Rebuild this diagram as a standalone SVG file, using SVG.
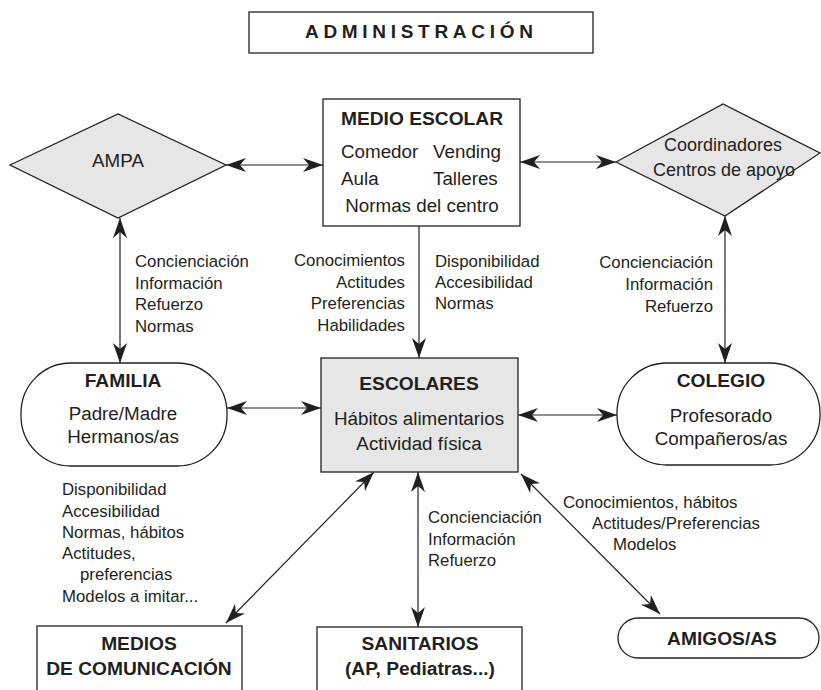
<svg xmlns="http://www.w3.org/2000/svg" width="821" height="690" viewBox="0 0 821 690">
<style>
.box{fill:#fff;stroke:#231f20;stroke-width:1.3}
.gray{fill:#e6e6e6;stroke:#231f20;stroke-width:1.3}
.t{font-family:"Liberation Sans",Arial,sans-serif;font-size:18.8px;fill:#231f20}
.b{font-weight:bold;font-size:19.2px}
.m{text-anchor:middle}
.l{font-family:"Liberation Sans",Arial,sans-serif;font-size:16.8px;fill:#231f20}
.e{text-anchor:end}
.c{stroke:#231f20;stroke-width:1.2;fill:none;marker-end:url(#ah)}
.c2{marker-start:url(#ah)}
</style>
<defs>
<marker id="ah" viewBox="0 0 20 14" refX="20" refY="7" markerWidth="20" markerHeight="14" markerUnits="userSpaceOnUse" orient="auto-start-reverse">
<path d="M0,0 L20,7 L0,14 L6,7 z" fill="#231f20"/>
</marker>
</defs>
<rect width="821" height="690" fill="#fff"/>

<g id="administracion">
<rect class="box" x="249" y="12" width="344" height="41"/>
<text class="t" x="305" y="38" style="font-weight:bold;font-size:19px;letter-spacing:4.7px">ADMINISTRACIÓN</text>
</g>

<g id="ampa">
<polygon class="gray" points="10,165 118,114 226,165 118,218"/>
<text class="t m" x="118" y="167">AMPA</text>
</g>

<g id="medio-escolar">
<rect class="box" x="323" y="99" width="197" height="127"/>
<text class="t b m" x="422" y="125">MEDIO ESCOLAR</text>
<text class="t" x="341" y="158">Comedor</text>
<text class="t" x="433" y="158">Vending</text>
<text class="t" x="341" y="185">Aula</text>
<text class="t" x="433" y="185">Talleres</text>
<text class="t m" x="422" y="212">Normas del centro</text>
</g>

<g id="coordinadores">
<polygon class="gray" points="616,162 723,104 820,153 725,216"/>
<text class="t m" x="723" y="151" style="font-size:18px">Coordinadores</text>
<text class="t m" x="724" y="176" style="font-size:18px">Centros de apoyo</text>
</g>

<g id="familia">
<rect class="box" x="21" y="363" width="206" height="103" rx="50" ry="50"/>
<text class="t b m" x="123" y="387">FAMILIA</text>
<text class="t m" x="123" y="420">Padre/Madre</text>
<text class="t m" x="123" y="443">Hermanos/as</text>
</g>

<g id="escolares">
<rect class="gray" x="321" y="358" width="197" height="114"/>
<text class="t b m" x="419" y="390">ESCOLARES</text>
<text class="t m" x="419" y="425">Hábitos alimentarios</text>
<text class="t m" x="419" y="450">Actividad física</text>
</g>

<g id="colegio">
<rect class="box" x="617" y="363" width="203" height="102" rx="50" ry="50"/>
<text class="t b m" x="721" y="387">COLEGIO</text>
<text class="t m" x="721" y="422">Profesorado</text>
<text class="t m" x="721" y="445">Compañeros/as</text>
</g>

<g id="medios">
<rect class="box" x="37" y="626" width="205" height="80"/>
<text class="t b m" x="139" y="650">MEDIOS</text>
<text class="t b m" x="139" y="675">DE COMUNICACIÓN</text>
</g>

<g id="sanitarios">
<rect class="box" x="317" y="627" width="205" height="80"/>
<text class="t b m" x="420" y="650">SANITARIOS</text>
<text class="t b m" x="420" y="675">(AP, Pediatras...)</text>
</g>

<g id="amigos">
<rect class="box" x="618" y="618" width="201" height="40" rx="20" ry="20"/>
<text class="t b m" x="722" y="645">AMIGOS/AS</text>
</g>

<g id="connectors">
<line class="c c2" x1="226" y1="165" x2="323" y2="165"/>
<line class="c c2" x1="520" y1="162" x2="616" y2="162"/>
<line class="c c2" x1="120" y1="218" x2="120" y2="363"/>
<line class="c c2" x1="725" y1="216" x2="725" y2="363"/>
<line class="c" x1="419" y1="226" x2="419" y2="358"/>
<line class="c c2" x1="227" y1="408" x2="321" y2="408"/>
<line class="c c2" x1="518" y1="415" x2="617" y2="415"/>
<line class="c c2" x1="374" y1="472" x2="226" y2="623"/>
<line class="c c2" x1="418" y1="472" x2="418" y2="627"/>
<line class="c c2" x1="521" y1="474" x2="660" y2="614"/>
</g>

<g id="labels">
<text class="l" x="135" y="267">Concienciación</text>
<text class="l" x="135" y="289">Información</text>
<text class="l" x="135" y="310">Refuerzo</text>
<text class="l" x="135" y="332">Normas</text>

<text class="l e" x="405" y="266">Conocimientos</text>
<text class="l e" x="405" y="288">Actitudes</text>
<text class="l e" x="405" y="309">Preferencias</text>
<text class="l e" x="405" y="331">Habilidades</text>

<text class="l" x="435" y="267">Disponibilidad</text>
<text class="l" x="435" y="288">Accesibilidad</text>
<text class="l" x="435" y="309">Normas</text>

<text class="l e" x="713" y="268">Concienciación</text>
<text class="l e" x="713" y="290">Información</text>
<text class="l e" x="713" y="312">Refuerzo</text>

<text class="l" x="62" y="495">Disponibilidad</text>
<text class="l" x="62" y="517">Accesibilidad</text>
<text class="l" x="62" y="538">Normas, hábitos</text>
<text class="l" x="62" y="559">Actitudes,</text>
<text class="l" x="80" y="580">preferencias</text>
<text class="l" x="62" y="602">Modelos a imitar...</text>

<text class="l" x="428" y="523">Concienciación</text>
<text class="l" x="428" y="545">Información</text>
<text class="l" x="428" y="566">Refuerzo</text>

<text class="l" x="563" y="508">Conocimientos, hábitos</text>
<text class="l" x="592" y="529">Actitudes/Preferencias</text>
<text class="l" x="613" y="550">Modelos</text>
</g>
</svg>
